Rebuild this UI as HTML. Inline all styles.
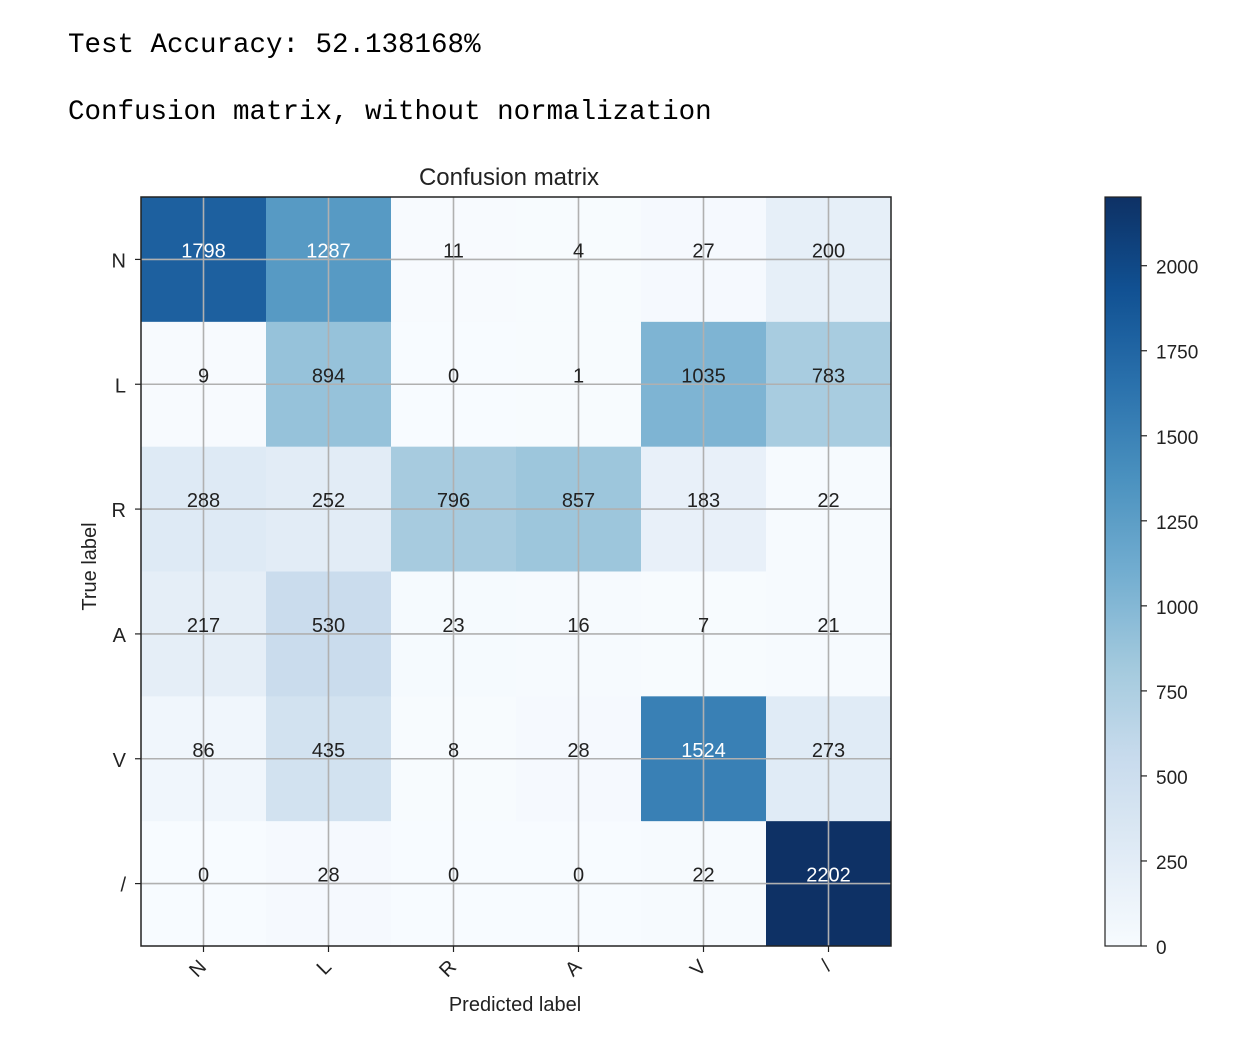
<!DOCTYPE html>
<html><head><meta charset="utf-8"><style>
body{margin:0;background:#fff;width:1252px;height:1046px;overflow:hidden}
.mono{position:absolute;left:68px;font-family:"Liberation Mono",monospace;font-size:27.5px;color:#000;white-space:pre}
svg{position:absolute;left:0;top:0}
text{font-family:"Liberation Sans","DejaVu Sans",sans-serif}
</style></head><body>
<div class="mono" style="top:30px">Test Accuracy: 52.138168%</div>
<div class="mono" style="top:97px">Confusion matrix, without normalization</div>
<svg id="c" width="1252" height="1046"></svg>
<script>
const labels=["N","L","R","A","V","/"];
const row0=[1798,1287,11,4,27,200];
const row1=[9,894,0,1,1035,783];
const row2=[288,252,796,857,183,22];
const row3=[217,530,23,16,7,21];
const row4=[86,435,8,28,1524,273];
const row5=[0,28,0,0,22,2202];
const matrix=[row0,row1,row2,row3,row4,row5];
const cbTicks=[0,250,500,750,1000,1250,1500,1750,2000];
const stops=["#f7fbff","#deebf7","#c6dbef","#9ecae1","#6baed6","#4292c6","#2171b5","#08519c","#08306b"];
const NS="http://www.w3.org/2000/svg";
const svg=document.getElementById('c');
function mk(t,a,p){const e=document.createElementNS(NS,t);for(const k in a)e.setAttribute(k,a[k]);(p||svg).appendChild(e);return e;}
function hex(h){return [1,3,5].map(i=>parseInt(h.substr(i,2),16));}
function desat(c){const g=(c[0]+c[1]+c[2])/3;return c.map(v=>Math.round(v*0.88+g*0.12));}
function cmap(t){t=Math.max(0,Math.min(1,t));const s=t*8,i=Math.min(7,Math.floor(s)),f=s-i;const a=hex(stops[i]),b=hex(stops[i+1]);return 'rgb('+desat(a.map((v,k)=>v+(b[k]-v)*f)).join(',')+')';}
const X0=141,Y0=197,W=750,H=749,n=labels.length,cw=W/n,ch=H/n;
const vmax=Math.max(...matrix.flat());
const xc=i=>X0+cw*(i+0.5), yc=i=>Y0+ch*(i+0.5);
matrix.forEach((r,i)=>r.forEach((v,j)=>{
 const c=mk('rect',{x:X0+j*cw,y:Y0+i*ch,width:cw+0.5,height:ch+0.5,fill:cmap(v/vmax)});
 
 
}));
for(let i=0;i<n;i++){
 mk('line',{x1:xc(i),x2:xc(i),y1:Y0,y2:Y0+H,stroke:'#b0b0b0','stroke-width':1.6});
 mk('line',{x1:X0,x2:X0+W,y1:yc(i),y2:yc(i),stroke:'#b0b0b0','stroke-width':1.6});
}
matrix.forEach((r,i)=>r.forEach((v,j)=>{
 const t=mk('text',{x:xc(j),y:yc(i)-2,'text-anchor':'middle','font-size':20,fill:v>vmax/2?'#fff':'#222'});
 t.textContent=v;
 
 
}));
mk('rect',{x:X0,y:Y0,width:W,height:H,fill:'none',stroke:'#222','stroke-width':1.5});
labels.forEach((l,i)=>{
 mk('line',{x1:X0-6,x2:X0,y1:yc(i),y2:yc(i),stroke:'#222','stroke-width':1.2});
 const t=mk('text',{x:X0-15,y:yc(i)+8,'text-anchor':'end','font-size':20,fill:'#222'});t.textContent=l;
 
 
 mk('line',{x1:xc(i),x2:xc(i),y1:Y0+H,y2:Y0+H+6,stroke:'#222','stroke-width':1.2});
 const u=mk('text',{x:xc(i)+4,y:Y0+H+22,'text-anchor':'end','font-size':20,fill:'#222',transform:'rotate(-45 '+(xc(i)+4)+' '+(Y0+H+22)+')'});u.textContent=l;
 
 
});
let t=mk('text',{x:X0+W/2-7,y:185,'text-anchor':'middle','font-size':24,fill:'#222'});t.textContent='Confusion matrix';

t=mk('text',{x:X0+W/2-1,y:1011,'text-anchor':'middle','font-size':20,fill:'#222'});t.textContent='Predicted label';

t=mk('text',{x:96,y:Y0+H/2-5,'text-anchor':'middle','font-size':20,fill:'#222',transform:'rotate(-90 96 '+(Y0+H/2-5)+')'});t.textContent='True label';

// colorbar
const CX=1105,CW=36,CY0=197,CH=749;
const defs=mk('defs',{});const g=mk('linearGradient',{id:'g',x1:0,y1:1,x2:0,y2:0},defs);
for(let k=0;k<=32;k++){mk('stop',{offset:k/32,'stop-color':cmap(k/32)},g);}
const cb=mk('rect',{x:CX,y:CY0,width:CW,height:CH,fill:'url(#g)',stroke:'#222','stroke-width':1.2});

const cy=v=>CY0+CH-v/vmax*CH;
cbTicks.forEach(v=>{
 mk('line',{x1:CX+CW,x2:CX+CW+6,y1:cy(v),y2:cy(v),stroke:'#222','stroke-width':1.2});
 const e=mk('text',{x:CX+CW+15,y:cy(v)+8,'font-size':19,fill:'#222'});e.textContent=v;
 
 
});
</script>
</body></html>
